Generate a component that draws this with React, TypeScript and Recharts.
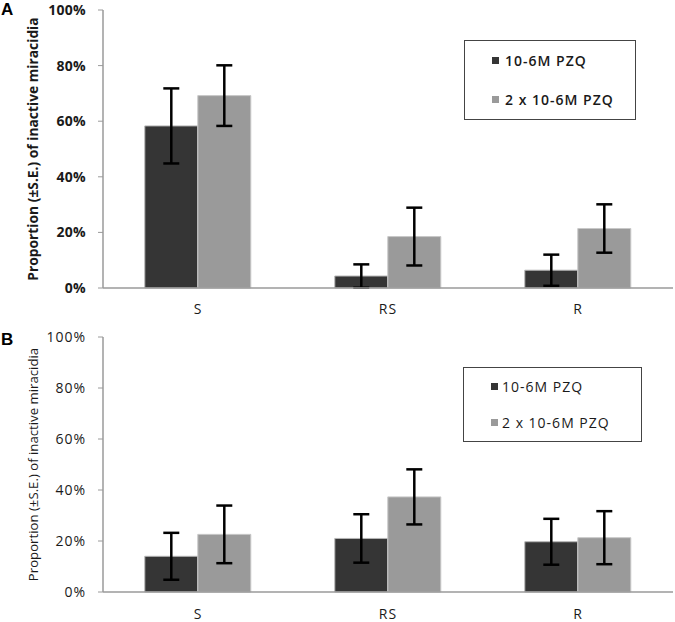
import { BarChart, Bar, XAxis, YAxis, ErrorBar, Legend } from "recharts";

// strains and shared axis ticks
const strains = ["S", "RS", "R"];
const yTicks = [0, 20, 40, 60, 80, 100];
const boundaryTicks = [0, 1, 2, 3];
const seriesNames = ["10-6M PZQ", "2 x 10-6M PZQ"];
const yTitle = "Proportion (±S.E.) of inactive miracidia";

// panel A
const singleA = [58.3, 4.3, 6.4];
const singleErrA = [13.5, 4.2, 5.6];
const doubleA = [69.2, 18.5, 21.4];
const doubleErrA = [10.9, 10.4, 8.7];

// panel B
const singleB = [14.0, 21.0, 19.7];
const singleErrB = [9.2, 9.5, 9.0];
const doubleB = [22.6, 37.3, 21.3];
const doubleErrB = [11.3, 10.8, 10.4];

const DARK = "#353535";
const LIGHT = "#9a9a9a";
const AXIS = "#9a9a9a";
const FONT = "'Open Sans', sans-serif";

function rows(s: number[], se: number[], d: number[], de: number[]) {
  return strains.map((name, i) => ({ name, single: s[i], singleErr: se[i], double: d[i], doubleErr: de[i] }));
}

type PanelProps = {
  letter: string;
  data: ReturnType<typeof rows>;
  height: number;
  top: number;
  bottom: number;
  bold: boolean;
  legendBox: { left: number; top: number; width: number; height: number };
};

function Panel({ letter, data, height, top, bottom, bold, legendBox }: PanelProps) {
  const yTickStyle = { fontSize: 14, fill: "#1a1a1a", fontFamily: FONT, fontWeight: bold ? 700 : 400, letterSpacing: bold ? 0.3 : 1 };
  const xTickStyle = { fontSize: 14, fill: "#1a1a1a", fontFamily: FONT, fontWeight: 400, letterSpacing: 1 };

  const legendContent = () => (
    <div
      style={{
        width: legendBox.width,
        height: legendBox.height,
        border: "1px solid #444",
        boxSizing: "border-box",
        paddingLeft: 27,
        display: "flex",
        flexDirection: "column",
        justifyContent: "space-around",
        fontFamily: FONT,
        fontWeight: bold ? 600 : 400,
        fontSize: 14,
        letterSpacing: 1,
        color: "#1a1a1a",
      }}
    >
      {seriesNames.map((n, i) => (
        <div key={n} style={{ display: "flex", alignItems: "center" }}>
          <span style={{ width: 7, height: 7, background: i === 0 ? DARK : LIGHT, marginRight: bold ? 6 : 4, display: "inline-block" }} />
          {n}
        </div>
      ))}
    </div>
  );

  return (
    <div style={{ position: "relative", width: 675, height }}>
      <div style={{ position: "absolute", left: 1, top: bold ? 0 : 8, fontFamily: "'Liberation Sans', Arial", fontWeight: 700, fontSize: 17 }}>
        {letter}
      </div>
      <BarChart width={675} height={height} data={data} margin={{ top, right: 2, bottom, left: 0 }} barCategoryGap="22%" barGap={0}>
        <XAxis xAxisId="grid" type="number" domain={[0, 3]} ticks={boundaryTicks} tick={false} axisLine={false} tickSize={6} tickLine={{ stroke: AXIS }} height={0} />
        <XAxis xAxisId="cat" dataKey="name" axisLine={{ stroke: AXIS, strokeWidth: 1.5 }} tickLine={false} tickSize={0} tickMargin={bold ? 16 : 17} tick={xTickStyle} height={30} />
        <YAxis
          domain={[0, 100]}
          ticks={yTicks}
          tickFormatter={(v: number) => `${v}%`}
          width={103}
          tick={yTickStyle}
          tickSize={5}
          tickMargin={12}
          axisLine={{ stroke: AXIS, strokeWidth: 1.5 }}
          tickLine={{ stroke: AXIS }}
          label={{
            value: yTitle,
            angle: -90,
            position: "insideLeft",
            offset: 0,
            dx: 33,
            style: { textAnchor: "middle", fontSize: bold ? 13.8 : 13.2, fontFamily: FONT, fontWeight: bold ? 700 : 400, fill: "#1a1a1a" },
          }}
        />
        <Legend
          layout="horizontal"
          verticalAlign="middle"
          align="center"
          content={legendContent}
          wrapperStyle={{ left: legendBox.left, top: legendBox.top, width: legendBox.width, height: legendBox.height }}
        />
        <Bar xAxisId="cat" dataKey="single" name={seriesNames[0]} fill={DARK} stroke="#b5b5b5" strokeWidth={1} isAnimationActive={false}>
          <ErrorBar dataKey="singleErr" width={8} stroke="#000" strokeWidth={2.5} />
        </Bar>
        <Bar xAxisId="cat" dataKey="double" name={seriesNames[1]} fill={LIGHT} stroke="#c8c8c8" strokeWidth={1} isAnimationActive={false}>
          <ErrorBar dataKey="doubleErr" width={8} stroke="#000" strokeWidth={2.5} />
        </Bar>
      </BarChart>
    </div>
  );
}

export default function App() {
  return (
    <div style={{ position: "absolute", left: 0, top: 0, width: 675, height: 622, background: "#fff" }}>
      <Panel
        letter="A"
        data={rows(singleA, singleErrA, doubleA, doubleErrA)}
        height={322}
        top={10}
        bottom={4}
        bold
        legendBox={{ left: 464, top: 40, width: 172, height: 80 }}
      />
      <Panel
        letter="B"
        data={rows(singleB, singleErrB, doubleB, doubleErrB)}
        height={300}
        top={15}
        bottom={0}
        bold={false}
        legendBox={{ left: 463, top: 45, width: 179, height: 75 }}
      />
    </div>
  );
}
